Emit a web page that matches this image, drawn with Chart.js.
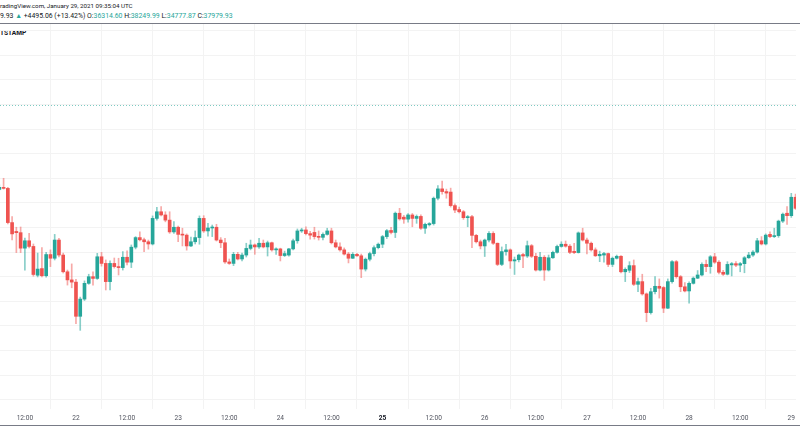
<!DOCTYPE html>
<html>
<head>
<meta charset="utf-8">
<script src="https://cdn.jsdelivr.net/npm/chart.js@4.4.1/dist/chart.umd.min.js"></script>
<style>
  html, body { margin: 0; padding: 0; background: #fff; width: 800px; height: 445px; overflow: hidden; }
  body { font-family: Roboto, "Open Sans", sans-serif; color: #131722; }
  .txt { position: absolute; left: 0; white-space: nowrap; font-size: 6.6px; line-height: 8px; }
  #hdr1 { top: 2px; font-size: 6.2px; }
  #hdr2 { top: 12px; font-size: 6.9px; }
  #symbol { top: 29px; font-weight: bold; }
  .up { color: #26a69a; }
  .rule { position: absolute; left: 0; width: 800px; height: 1px; background: #787b86; }
  #wrap { position: absolute; left: 0; top: 24px; width: 800px; height: 401px; }
</style>
</head>
<body>
<div id="hdr1" class="txt">radingView.com, January 29, 2021 09:35:04 UTC</div>
<div id="hdr2" class="txt">9.93 <span class="up">▲</span> +4495.06 (+13.42%) O:<span class="up">36314.60</span> H:<span class="up">38249.99</span> L:<span class="up">34777.87</span> C:<span class="up">37979.93</span></div>
<div class="rule" style="top:23px"></div>
<div id="symbol" class="txt">TSTAMP</div>
<div id="wrap"><canvas id="chart"></canvas></div>
<div class="rule" style="top:425px"></div>
<script>
// hourly BTC candles, first one is Jan 21 06:00 (hour -6, hour 0 = Jan 21 12:00)
const firstHour = -6;
const opens = [
  34550, 34630, 34590, 33200, 32840, 32790, 32160, 32460, 32230, 31060, 31330, 31040,
  31900, 31750, 32490, 31880, 31200, 30870, 30780, 29390, 30090, 30730, 31000, 30930,
  31810, 31540, 30800, 31540, 31410, 31370, 31790, 31590, 32200, 32590, 32500, 32420,
  32330, 33370, 33640, 33510, 33300, 32820, 33010, 32720, 32690, 32250, 32420, 32590,
  33370, 32860, 32980, 33010, 32490, 32380, 31600, 31540, 31910, 31720, 31880, 32150,
  32290, 32210, 32360, 32210, 32380, 32090, 32130, 31860, 31880, 32130, 32460, 32860,
  32900, 32750, 32800, 32640, 32600, 32720, 32860, 32380, 32210, 32090, 31920, 31750,
  31910, 31850, 31310, 31710, 31940, 32180, 32320, 32630, 32880, 32800, 33580, 33420,
  33340, 33510, 33370, 33450, 32970, 33110, 33160, 34190, 34570, 34460, 34440, 33890,
  33730, 33640, 33400, 33440, 32680, 32420, 32250, 32490, 32760, 32360, 31500, 32020,
  32090, 31640, 31690, 31900, 31840, 32260, 31830, 31270, 31790, 31270, 31770, 31990,
  32230, 32320, 32240, 32030, 31980, 32780, 32490, 32360, 32090, 31850, 31880, 31940,
  31500, 31750, 31830, 31200, 31260, 31450, 30690, 30800, 30300, 29540, 30390, 30610,
  30560, 29720, 30800, 31610, 31000, 30590, 30420, 30730, 30940, 31070, 31500, 31410,
  31810, 31590, 31180, 31100, 31480, 31530, 31470, 31530, 31770, 31880, 32000, 32460,
  32330, 32720, 32630, 32670, 33260, 33580, 33480, 34230
];
const highs = [
  34730, 35000, 34630, 33440, 33010, 33020, 32570, 32760, 32330, 31960, 32180, 31990,
  32090, 32720, 32560, 31960, 31270, 31520, 30890, 30170, 30830, 31100, 31200, 31950,
  31990, 31680, 31640, 31760, 31750, 32020, 32050, 32290, 32630, 32820, 32570, 32490,
  33470, 33820, 33850, 33640, 33640, 33240, 33060, 32970, 32740, 32610, 32860, 33470,
  33480, 33170, 33100, 33130, 32590, 32560, 31720, 31990, 31990, 31960, 32360, 32490,
  32330, 32560, 32490, 32450, 32410, 32170, 32160, 32040, 32150, 32530, 32940, 32970,
  33030, 32840, 33010, 32860, 32780, 32970, 32970, 32490, 32380, 32170, 31990, 31980,
  31950, 31920, 31760, 32000, 32250, 32370, 32680, 32920, 33010, 33630, 33780, 33490,
  33570, 33570, 33510, 33510, 33180, 33200, 34240, 34700, 34890, 34560, 34600, 33960,
  33830, 33690, 33490, 33490, 32720, 32490, 32530, 32830, 32830, 32370, 32210, 32320,
  32130, 31800, 31920, 31950, 32450, 32310, 31950, 31990, 31860, 31880, 32040, 32290,
  32420, 32450, 32310, 32360, 32820, 32970, 32570, 32410, 32170, 32040, 31990, 31960,
  31800, 31880, 31860, 31360, 31610, 31680, 30940, 31100, 30340, 30530, 31000, 30910,
  30600, 30910, 31660, 31660, 31050, 30760, 30790, 30990, 31250, 31560, 31680, 31860,
  31950, 31660, 31260, 31610, 31580, 31610, 31580, 31820, 31990, 32060, 32560, 32630,
  32740, 32820, 32970, 33300, 33590, 33850, 34390, 34360
];
const lows = [
  34520, 34560, 33150, 32490, 31980, 31980, 31270, 32170, 31020, 30990, 30990, 30980,
  31410, 31680, 31800, 31150, 30660, 30550, 29090, 28820, 30030, 30690, 30660, 30890,
  31430, 30460, 30460, 31350, 31070, 31270, 31480, 31370, 32130, 32450, 32020, 32120,
  32290, 33300, 33470, 33230, 32760, 32760, 32420, 32250, 32080, 32220, 32330, 32320,
  32800, 32650, 32630, 32450, 32180, 31540, 31500, 31450, 31680, 31640, 31800, 32090,
  31910, 32150, 32170, 31840, 32040, 31910, 31640, 31820, 31830, 32090, 32360, 32800,
  32700, 32530, 32530, 32490, 32490, 32690, 32330, 32170, 32040, 31880, 31560, 31740,
  31820, 30960, 31230, 31640, 31840, 32130, 32180, 32550, 32740, 32590, 33300, 33170,
  33220, 33030, 33170, 32920, 32760, 33060, 33100, 34120, 34350, 34190, 33830, 33600,
  33590, 33330, 33030, 32180, 32370, 32130, 31820, 32410, 32310, 31450, 31450, 31880,
  31340, 31090, 31600, 31370, 31780, 31780, 31230, 31230, 30850, 31230, 31740, 31960,
  32200, 32200, 31940, 31940, 31960, 32450, 31930, 32040, 31820, 31610, 31590, 31410,
  31410, 31720, 31150, 30800, 31170, 30640, 30390, 30250, 29170, 29480, 30300, 30130,
  29540, 29700, 30740, 30940, 30390, 30380, 29920, 30700, 30920, 31030, 31200, 31140,
  31540, 31110, 31050, 31070, 31030, 31410, 31200, 31160, 31740, 31820, 31960, 32290,
  32290, 32590, 32590, 32600, 33200, 33130, 33410, 33730
];
const closes = [
  34630, 34590, 33200, 32740, 32790, 32160, 32460, 32230, 31090, 31310, 31040, 31900,
  31750, 32490, 31880, 31200, 30870, 30780, 29390, 30090, 30730, 31000, 30930, 31810,
  31540, 30800, 31540, 31410, 31370, 31790, 31590, 32200, 32590, 32500, 32420, 32330,
  33370, 33640, 33510, 33300, 32820, 33010, 32720, 32690, 32250, 32420, 32590, 33370,
  32860, 32980, 33010, 32490, 32380, 31600, 31540, 31910, 31720, 31880, 32150, 32290,
  32210, 32360, 32210, 32380, 32090, 32130, 31860, 31940, 32130, 32460, 32860, 32900,
  32750, 32690, 32630, 32600, 32720, 32860, 32380, 32210, 32090, 31920, 31750, 31910,
  31850, 31310, 31710, 31940, 32180, 32320, 32630, 32870, 32800, 33580, 33350, 33340,
  33510, 33370, 33450, 32970, 33130, 33160, 34190, 34570, 34460, 34400, 33890, 33710,
  33640, 33400, 33440, 32680, 32420, 32250, 32490, 32760, 32360, 31500, 32020, 32090,
  31640, 31690, 31880, 31840, 32260, 31830, 31270, 31790, 31270, 31770, 31990, 32230,
  32320, 32240, 31990, 31980, 32780, 32490, 32360, 32090, 31850, 31910, 31940, 31500,
  31750, 31830, 31200, 31300, 31450, 30690, 30800, 30300, 29540, 30390, 30610, 30530,
  29720, 30800, 31610, 31000, 30590, 30420, 30730, 30940, 31070, 31500, 31410, 31810,
  31590, 31180, 31100, 31500, 31530, 31470, 31530, 31770, 31880, 32000, 32460, 32330,
  32690, 32630, 32670, 33260, 33540, 33480, 34230, 33780
];
const lastClose = 37979.93;   // dotted price line
const tickHours = [0, 12, 24, 36, 48, 60, 72, 84, 96, 108, 120, 132, 144, 156, 168, 180];
const tickLabels = ['12:00', '22', '12:00', '23', '12:00', '24', '12:00', '25',
                    '12:00', '26', '12:00', '27', '12:00', '28', '12:00', '29'];
const priceGrid = [26000, 27000, 28000, 29000, 30000, 31000, 32000, 33000,
                   34000, 35000, 36000, 37000, 38000, 39000, 40000, 41000];

const upColor = '#26a69a';
const downColor = '#ef5350';

const bodies = [];
const wicks = [];
const bodyColors = [];
const wickColors = [];
opens.forEach(function (o, i) {
    const c = closes[i];
    const x = firstHour + i;
    bodies.push({ x: x, y: [o, c] });
    wicks.push({ x: x, y: [Math.min(lows[i], o, c), Math.max(highs[i], o, c)] });
    bodyColors.push(c >= o ? upColor : downColor);
    wickColors.push(c >= o ? 'rgba(38,166,154,0.55)' : 'rgba(239,83,80,0.5)');
});

const priceLine = {
    id: 'priceLine',
    beforeDatasetsDraw(chart) {
        const ctx = chart.ctx;
        const area = chart.chartArea;
        const y = Math.round(chart.scales.y.getPixelForValue(lastClose)) + 0.5;
        ctx.save();
        ctx.strokeStyle = 'rgba(38,166,154,0.6)';
        ctx.lineWidth = 1;
        ctx.setLineDash([1, 2]);
        ctx.beginPath();
        ctx.moveTo(area.left, y);
        ctx.lineTo(area.right, y);
        ctx.stroke();
        ctx.restore();
    }
};

new Chart(document.getElementById('chart'), {
    type: 'bar',
    data: {
        datasets: [
            {
                data: bodies,
                backgroundColor: bodyColors,
                barThickness: 3,
                minBarLength: 1,
                grouped: false,
                borderWidth: 0
            },
            {
                data: wicks,
                backgroundColor: wickColors,
                barThickness: 1,
                grouped: false,
                borderWidth: 0
            }
        ]
    },
    plugins: [priceLine],
    options: {
        responsive: true,
        maintainAspectRatio: false,
        animation: false,
        layout: { padding: 0, autoPadding: false },
        plugins: {
            legend: { display: false },
            tooltip: { enabled: false }
        },
        scales: {
            x: {
                type: 'linear',
                offset: false,
                min: -5.843,
                max: 181.12,
                afterBuildTicks: (scale) => {
                    scale.ticks = tickHours.map(v => ({ value: v }));
                },
                afterFit: (scale) => { scale.height = 16; },
                grid: { color: '#f3f3f3', drawTicks: false },
                border: { display: false },
                ticks: {
                    autoSkip: false,
                    maxRotation: 0,
                    padding: 5,
                    color: (ctx) => ctx.tick && ctx.tick.value === 84 ? '#131722' : '#50535e',
                    font: (ctx) => ({
                        family: 'Roboto, "Open Sans", sans-serif',
                        size: 6.6,
                        weight: ctx.tick && ctx.tick.value === 84 ? 'bold' : 'normal'
                    }),
                    callback: (value) => tickLabels[tickHours.indexOf(value)]
                }
            },
            y: {
                position: 'right',
                min: 25622,
                max: 41272,
                afterBuildTicks: (scale) => {
                    scale.ticks = priceGrid.map(v => ({ value: v }));
                },
                afterFit: (scale) => { scale.width = 0; },
                grid: { color: '#f3f3f3', drawTicks: false },
                border: { display: false },
                ticks: { display: false }
            }
        }
    }
});
</script>
</body>
</html>
